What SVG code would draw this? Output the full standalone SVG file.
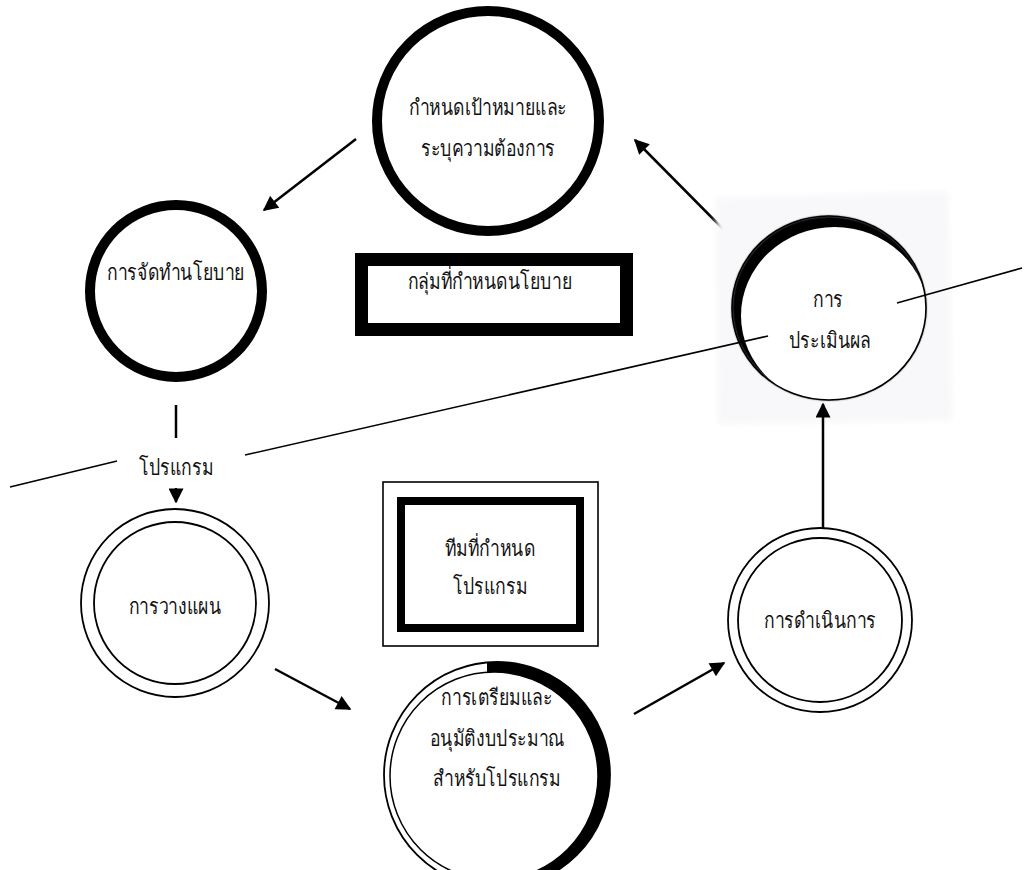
<svg xmlns="http://www.w3.org/2000/svg" width="1025" height="870" viewBox="0 0 1025 870">
  <style>
    text { font-family: "Liberation Serif", serif; font-size: 22px; fill: #111; text-anchor: middle; dominant-baseline: central; }
    .thick { fill: #fff; stroke: #000; stroke-width: 10; }
    .thin { fill: #fff; stroke: #000; stroke-width: 1.8; }
    .conn { stroke: #000; stroke-width: 2.5; fill: none; }
    .rule { stroke: #000; stroke-width: 1.6; fill: none; }
  </style>
  <defs>
    <marker id="arrow" viewBox="0 0 10 10" refX="9" refY="5" markerWidth="7" markerHeight="6" markerUnits="strokeWidth" orient="auto">
      <path d="M0,0 L10,5 L0,10 Z" fill="#000"/>
    </marker>
    <filter id="soft" x="-10%" y="-10%" width="120%" height="120%">
      <feGaussianBlur stdDeviation="0.9"/>
    </filter>
    <filter id="haze" x="-10%" y="-10%" width="120%" height="120%">
      <feGaussianBlur stdDeviation="3"/>
    </filter>
    <clipPath id="evalClip">
      <ellipse cx="829" cy="308" rx="97" ry="92"/>
    </clipPath>
    <clipPath id="budgetRight">
      <rect x="487" y="640" width="200" height="260"/>
    </clipPath>
  </defs>

  <rect width="1025" height="870" fill="#fff"/>

  <!-- connectors -->
  <g id="connectors">
    <line class="conn" x1="356" y1="139" x2="264" y2="210" marker-end="url(#arrow)"/>
    <line class="conn" x1="176" y1="405" x2="176" y2="438"/>
    <line class="conn" x1="176" y1="488" x2="176" y2="502" marker-end="url(#arrow)"/>
    <line class="conn" x1="275" y1="669" x2="350" y2="709" marker-end="url(#arrow)"/>
    <line class="conn" x1="634" y1="714" x2="724" y2="663" marker-end="url(#arrow)"/>
    <line class="conn" x1="737" y1="243" x2="635" y2="140" marker-end="url(#arrow)"/>
  </g>

  <!-- evaluation node, on its faint backing -->
  <g id="node-evaluate">
    <polygon points="716,198 948,192 952,420 718,424" fill="#f8f7f9" filter="url(#haze)"/>
    <line class="conn" x1="823" y1="530" x2="823" y2="404" marker-end="url(#arrow)"/>
    <ellipse cx="829" cy="308" rx="97" ry="92" fill="#000" filter="url(#soft)"/>
    <ellipse cx="834.6" cy="315.6" rx="93.6" ry="88.6" fill="#fff" clip-path="url(#evalClip)"/>
    <ellipse cx="829" cy="308" rx="97" ry="92" fill="none" stroke="#000" stroke-width="1.6"/>
    <text transform="translate(828 299) scale(0.8 1)">การ</text>
    <text transform="translate(830 340) scale(0.8 1)">ประเมินผล</text>
  </g>

  <!-- lines crossing the cycle -->
  <g id="rules">
    <line class="rule" x1="10" y1="487" x2="117" y2="461"/>
    <line class="rule" x1="245" y1="455" x2="768" y2="336"/>
    <line class="rule" x1="897" y1="303" x2="1022" y2="268"/>
  </g>

  <g id="node-goals">
    <ellipse class="thick" cx="488" cy="121" rx="111" ry="110"/>
    <text transform="translate(488 107) scale(0.8 1)">กำหนดเป้าหมายและ</text>
    <text transform="translate(488 148) scale(0.8 1)">ระบุความต้องการ</text>
  </g>

  <g id="node-policy">
    <circle class="thick" cx="176" cy="291" r="86"/>
    <text transform="translate(176 272) scale(0.8 1)">การจัดทำนโยบาย</text>
  </g>

  <g id="label-program">
    <text transform="translate(176 467) scale(0.8 1)">โปรแกรม</text>
  </g>

  <g id="node-planning">
    <circle class="thin" cx="175" cy="603" r="94" stroke-width="2"/>
    <circle class="thin" cx="175" cy="603" r="81" stroke-width="1.5"/>
    <text transform="translate(175 606) scale(0.8 1)">การวางแผน</text>
  </g>

  <g id="node-budget">
    <circle cx="497" cy="775" r="113" fill="#fff" stroke="#000" stroke-width="1.8"/>
    <circle cx="497" cy="775" r="113" fill="#000" clip-path="url(#budgetRight)"/>
    <circle cx="494" cy="776" r="104" fill="#fff" stroke="#000" stroke-width="1.5"/>
    <text transform="translate(497 697) scale(0.8 1)">การเตรียมและ</text>
    <text transform="translate(497 738) scale(0.8 1)">อนุมัติงบประมาณ</text>
    <text transform="translate(497 778) scale(0.8 1)">สำหรับโปรแกรม</text>
  </g>

  <g id="node-execute">
    <circle class="thin" cx="820" cy="620" r="92" stroke-width="2"/>
    <circle class="thin" cx="820" cy="620" r="82" stroke-width="1.5"/>
    <text transform="translate(820 620) scale(0.8 1)">การดำเนินการ</text>
  </g>

  <g id="box-policy-group">
    <rect x="361.5" y="259.5" width="265" height="70" fill="#fff" stroke="#000" stroke-width="13"/>
    <text transform="translate(490 281) scale(0.8 1)">กลุ่มที่กำหนดนโยบาย</text>
  </g>

  <g id="box-program-team">
    <rect x="383" y="482" width="215" height="164" fill="#fff" stroke="#000" stroke-width="1.6"/>
    <rect x="401" y="501" width="179" height="127" fill="#fff" stroke="#000" stroke-width="8"/>
    <text transform="translate(490 548) scale(0.8 1)">ทีมที่กำหนด</text>
    <text transform="translate(490 586) scale(0.8 1)">โปรแกรม</text>
  </g>
</svg>
